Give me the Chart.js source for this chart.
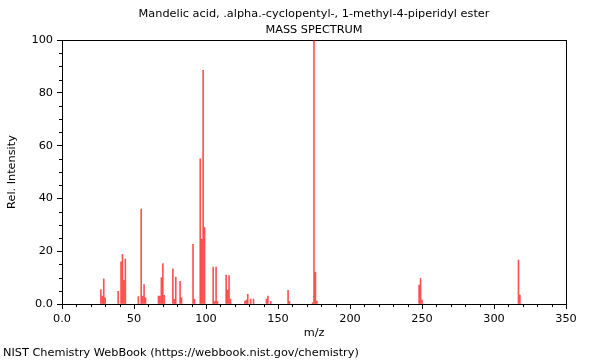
<!DOCTYPE html>
<html>
<head>
<meta charset="utf-8">
<script src="https://cdn.jsdelivr.net/npm/chart.js@4/dist/chart.umd.min.js"></script>
<style>
  html, body { margin: 0; padding: 0; background: #fff; }
  #wrap { width: 600px; height: 360px; position: relative; }
</style>
</head>
<body>
<div id="wrap"><canvas id="c" width="600" height="360"></canvas></div>
<script>
// m/z values and relative intensities
const mzValues = [27, 28, 29, 30, 39, 41, 42, 43, 44, 53, 55, 56, 57, 58, 67, 68, 69, 70, 71,
  77, 78, 79, 82, 83, 91, 92, 96, 97, 98, 99, 105, 106, 107, 108, 114, 115, 116, 117,
  127, 128, 129, 131, 133, 142, 143, 145, 157, 158, 174, 175, 176, 177, 248, 249, 250, 317, 318];
const intensities = [5.5, 3, 9.5, 2.4, 4.8, 16, 18.8, 9, 17, 2.8, 36, 3, 7.4, 2.4, 3, 3, 10, 15.3, 3.3,
  13.3, 1.8, 10.2, 8.6, 2.4, 22.6, 1.8, 55, 24.6, 88.5, 29, 14, 1, 14, 1, 11, 5.3, 10.8, 1.9,
  1, 1.5, 3.7, 1.9, 1.9, 1.9, 3, 1, 5.2, 1, 0.5, 100, 12, 1, 7.2, 9.7, 1.5, 16.7, 3.4];
const titleLines = ['Mandelic acid, .alpha.-cyclopentyl-, 1-methyl-4-piperidyl ester', 'MASS SPECTRUM'];
const xAxisTitle = 'm/z';
const yAxisTitle = 'Rel. Intensity';
const footerText = 'NIST Chemistry WebBook (https://webbook.nist.gov/chemistry)';
const xMajorTicks = [0, 50, 100, 150, 200, 250, 300, 350];
const yMajorTicks = [0, 20, 40, 60, 80, 100];

const FONT = 'DejaVu Sans';
const FS = 11.3;
const points = mzValues.map((m, i) => ({ x: m, y: intensities[i] }));

const minorTicks = {
  id: 'minorTicks',
  afterDraw(chart) {
    const ctx = chart.ctx;
    const xs = chart.scales.x, ys = chart.scales.y;
    const a = chart.chartArea;
    ctx.save();
    ctx.strokeStyle = '#000';
    ctx.lineWidth = 1;
    ctx.beginPath();
    for (let v = 0; v <= 350; v += 10) {
      if (v % 50 === 0) continue;
      const px = Math.round(xs.getPixelForValue(v)) + 0.5;
      ctx.moveTo(px, a.bottom);
      ctx.lineTo(px, a.bottom + 3);
    }
    for (let v = 0; v <= 100; v += 5) {
      if (v % 20 === 0) continue;
      const py = Math.round(ys.getPixelForValue(v)) + 0.5;
      ctx.moveTo(a.left, py);
      ctx.lineTo(a.left - 3, py);
    }
    ctx.stroke();
    ctx.restore();
  }
};

new Chart(document.getElementById('c'), {
  type: 'bar',
  data: {
    datasets: [{
      data: points,
      backgroundColor: 'rgba(255,0,0,0.68)',
      borderWidth: 0,
      barThickness: 1,
      xAxisID: 'x',
      yAxisID: 'y'
    }]
  },
  options: {
    responsive: false,
    animation: false,
    events: [],
    layout: { padding: { left: 3, right: 34, top: 0, bottom: 0 } },
    plugins: {
      legend: { display: false },
      tooltip: { enabled: false },
      title: {
        display: true,
        fullSize: false,
        text: titleLines,
        color: '#000',
        font: { family: FONT, size: FS, weight: 'normal', lineHeight: 1.416 },
        padding: { top: 6, bottom: 2 }
      },
      subtitle: {
        display: true,
        position: 'bottom',
        align: 'start',
        text: footerText,
        color: '#000',
        font: { family: FONT, size: FS, weight: 'normal', lineHeight: 1.2 },
        padding: { top: 6.4, bottom: 0.2 }
      }
    },
    scales: {
      x: {
        type: 'linear',
        position: 'bottom',
        min: 0, max: 350,
        offset: false,
        afterBuildTicks(scale) { scale.ticks = xMajorTicks.map(v => ({ value: v })); },
        afterFit(scale) { scale.height = 35.8; },
        ticks: {
          color: '#000',
          font: { family: FONT, size: FS },
          padding: 3,
          maxRotation: 0,
          autoSkip: false,
          callback: v => (v === 0 ? '0.0' : String(v))
        },
        grid: { drawOnChartArea: false, drawTicks: true, tickLength: 5, color: '#000', offset: false },
        border: { display: true, color: '#000', width: 1 },
        title: {
          display: true, text: xAxisTitle, color: '#000',
          font: { family: FONT, size: FS }, padding: { top: 0, bottom: 0 }
        }
      },
      y: {
        type: 'linear',
        position: 'left',
        min: 0, max: 100,
        afterBuildTicks(scale) { scale.ticks = yMajorTicks.map(v => ({ value: v })); },
        afterFit(scale) { scale.width = 59; },
        ticks: {
          color: '#000',
          font: { family: FONT, size: FS },
          padding: 4,
          callback: v => (v === 0 ? '0.0' : String(v))
        },
        grid: { drawOnChartArea: false, drawTicks: true, tickLength: 5, color: '#000' },
        border: { display: true, color: '#000', width: 1 },
        title: {
          display: true, text: yAxisTitle, color: '#000',
          font: { family: FONT, size: FS }, padding: { top: 2, bottom: 0 }
        }
      },
      x2: {
        type: 'linear', position: 'top', min: 0, max: 350,
        ticks: { display: false },
        grid: { drawOnChartArea: false, drawTicks: false },
        border: { display: true, color: '#000', width: 1 },
        afterFit(scale) { scale.height = 0; }
      },
      y2: {
        type: 'linear', position: 'right', min: 0, max: 100,
        ticks: { display: false },
        grid: { drawOnChartArea: false, drawTicks: false },
        border: { display: true, color: '#000', width: 1 },
        afterFit(scale) { scale.width = 0; }
      }
    }
  },
  plugins: [minorTicks]
});
</script>
</body>
</html>
